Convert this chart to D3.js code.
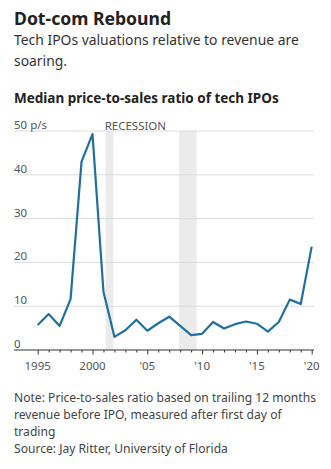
<!DOCTYPE html>
<html lang="en">
<head>
<meta charset="utf-8">
<title>Dot-com Rebound</title>
<script src="https://d3js.org/d3.v7.min.js"></script>
<style>
  body { margin: 0; background: #fff; }
  svg { display: block; font-family: "Noto Sans", sans-serif; }
</style>
</head>
<body>
<script>
// data: median price-to-sales ratio of tech IPOs, by year
var years = [1995, 1996, 1997, 1998, 1999, 2000, 2001, 2002, 2003, 2004, 2005, 2006, 2007,
             2008, 2009, 2010, 2011, 2012, 2013, 2014, 2015, 2016, 2017, 2018, 2019, 2020];
var ratios = [5.7, 8.2, 5.5, 11.6, 43.0, 49.3, 13.3, 3.0, 4.5, 6.9, 4.4, 6.1, 7.6,
              5.5, 3.4, 3.7, 6.4, 4.9, 5.9, 6.5, 6.0, 4.2, 6.4, 11.5, 10.5, 23.6];
var recessions = [[2001.2, 2001.9], [2007.9, 2009.5]];
var yTicks = [0, 10, 20, 30, 40, 50];
var xLabelYears = [1995, 2000, 2005, 2010, 2015, 2020];
var xLabels = ["1995", "2000", "'05", "'10", "'15", "'20"];

var w = 331, h = 469;
var left = 14, right = 314;

var svg = d3.select("body").append("svg")
    .attr("width", w)
    .attr("height", h);

var x = d3.scaleLinear().domain([1995, 2020]).range([37.7, 311.7]);
var y = d3.scaleLinear().domain([0, 50]).range([350, 131]);

// headings
svg.append("text").attr("x", left).attr("y", 25)
    .attr("font-size", 17.6).attr("font-weight", 700).attr("fill", "#222")
    .text("Dot-com Rebound");

svg.selectAll(".sub")
    .data(["Tech IPOs valuations relative to revenue are", "soaring."])
    .enter().append("text")
    .attr("x", left).attr("y", function(d, i) { return 45 + i * 21; })
    .attr("font-size", 13.9).attr("fill", "#333")
    .text(function(d) { return d; });

svg.append("text").attr("x", left).attr("y", 103)
    .attr("font-size", 13.5).attr("font-weight", 700).attr("fill", "#222")
    .text("Median price-to-sales ratio of tech IPOs");

// recession bands
svg.selectAll(".rec")
    .data(recessions)
    .enter().append("rect")
    .attr("x", function(d) { return x(d[0]); })
    .attr("width", function(d) { return x(d[1]) - x(d[0]); })
    .attr("y", y(50))
    .attr("height", y(0) - y(50))
    .attr("fill", "#ebebeb");

svg.append("text").attr("x", x(recessions[0][0]) - 1).attr("y", 129.5)
    .attr("font-size", 11.5).attr("fill", "#555")
    .text("RECESSION");

// gridlines + y labels
svg.selectAll(".grid")
    .data(yTicks.slice(1))
    .enter().append("line")
    .attr("x1", left).attr("x2", right)
    .attr("y1", function(d) { return y(d); })
    .attr("y2", function(d) { return y(d); })
    .attr("stroke", "#dcdcdc").attr("stroke-width", 1);

svg.selectAll(".ylab")
    .data(yTicks)
    .enter().append("text")
    .attr("x", left)
    .attr("y", function(d) { return y(d) - 2; })
    .attr("font-size", 11.5).attr("fill", "#555")
    .text(function(d) { return d === 50 ? "50 p/s" : d; });

// x axis
var xAxis = d3.axisBottom(x)
    .tickValues(years)
    .tickSize(3)
    .tickFormat("");
var gx = svg.append("g").attr("transform", "translate(0," + y(0) + ")").call(xAxis);
gx.select(".domain").remove();
gx.selectAll(".tick line").attr("stroke", "#333")
    .attr("y2", function(d) { return d % 5 === 0 ? 4.5 : 2.5; });
gx.append("line").attr("x1", left).attr("x2", right)
    .attr("stroke", "#333").attr("stroke-width", 1);

svg.selectAll(".xlab")
    .data(xLabelYears)
    .enter().append("text")
    .attr("x", function(d) { return x(d); })
    .attr("y", 370)
    .attr("text-anchor", "middle")
    .attr("font-size", 11.5).attr("fill", "#555")
    .text(function(d, i) { return xLabels[i]; });

// line
var line = d3.line()
    .x(function(d, i) { return x(years[i]); })
    .y(function(d) { return y(d); });

svg.append("path")
    .datum(ratios)
    .attr("d", line)
    .attr("fill", "none")
    .attr("stroke", "#1f6f9f")
    .attr("stroke-width", 2.2)
    .attr("stroke-linejoin", "round");

// notes
svg.selectAll(".note")
    .data(["Note: Price-to-sales ratio based on trailing 12 months",
           "revenue before IPO, measured after first day of",
           "trading",
           "Source: Jay Ritter, University of Florida"])
    .enter().append("text")
    .attr("x", left)
    .attr("y", function(d, i) { return 401.5 + i * 17.2; })
    .attr("font-size", 12.1).attr("fill", "#444")
    .text(function(d) { return d; });
</script>
</body>
</html>
